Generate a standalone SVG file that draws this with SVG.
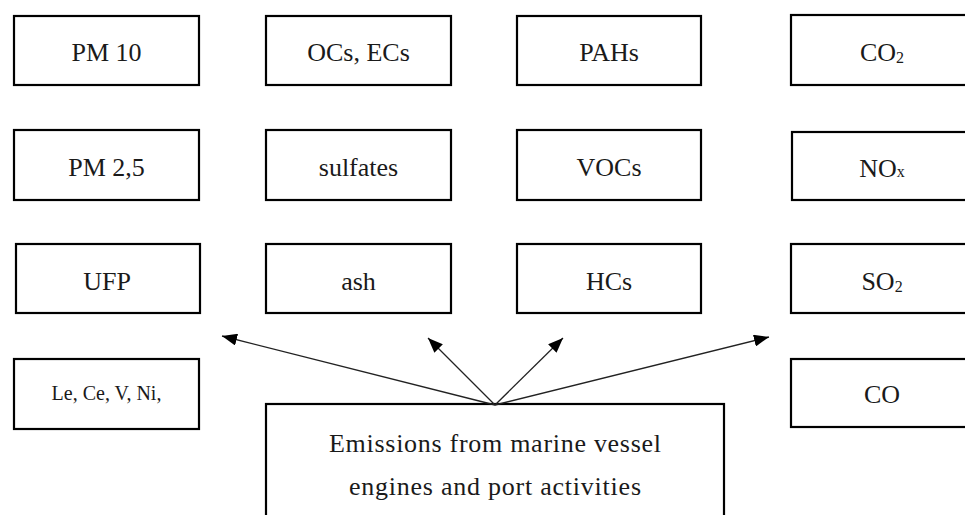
<svg xmlns="http://www.w3.org/2000/svg" width="965" height="515" viewBox="0 0 965 515">
<style>
.box{fill:#fff;stroke:#000;stroke-width:2.2}
.t{font-family:"Liberation Serif","Times New Roman",serif;font-size:26px;fill:#1a1a1a;text-anchor:middle}
.s{font-family:"Liberation Serif","Times New Roman",serif;font-size:20px;fill:#1a1a1a;text-anchor:middle}
.e{font-family:"Liberation Serif","Times New Roman",serif;font-size:26px;fill:#1a1a1a;text-anchor:middle}
.sub{font-size:16px}
.c{stroke:#222;stroke-width:1.3;fill:none;marker-end:url(#ah)}
</style>
<defs>
<marker id="ah" markerUnits="userSpaceOnUse" markerWidth="16" markerHeight="12" refX="15" refY="6" orient="auto">
<path d="M0,0 L15,6 L0,12 z" fill="#000"/>
</marker>
</defs>
<rect width="965" height="515" fill="#fff"/>
<g id="n-pm10"><rect class="box" x="14" y="16" width="185" height="69"/><text class="t" x="106.5" y="61">PM 10</text></g>
<g id="n-ocs"><rect class="box" x="266" y="16" width="185" height="69"/><text class="t" x="358.5" y="61">OCs, ECs</text></g>
<g id="n-pahs"><rect class="box" x="517" y="16" width="184" height="69"/><text class="t" x="609" y="61">PAHs</text></g>
<g id="n-co2"><rect class="box" x="791" y="15" width="186" height="70"/><text class="t" x="882" y="61">CO<tspan class="sub" dy="2">2</tspan></text></g>
<g id="n-pm25"><rect class="box" x="14" y="130" width="185" height="70"/><text class="t" x="106.5" y="176">PM 2,5</text></g>
<g id="n-sulfates"><rect class="box" x="266" y="130" width="185" height="70"/><text class="t" x="358.5" y="176">sulfates</text></g>
<g id="n-vocs"><rect class="box" x="517" y="130" width="184" height="70"/><text class="t" x="609" y="176">VOCs</text></g>
<g id="n-nox"><rect class="box" x="792" y="132" width="186" height="68"/><text class="t" x="882" y="177">NO<tspan class="sub" font-size="18" dy="0">x</tspan></text></g>
<g id="n-ufp"><rect class="box" x="16" y="244" width="184" height="69"/><text class="t" x="107" y="290">UFP</text></g>
<g id="n-ash"><rect class="box" x="266" y="244" width="185" height="69"/><text class="t" x="358.5" y="290">ash</text></g>
<g id="n-hcs"><rect class="box" x="517" y="244" width="184" height="69"/><text class="t" x="609" y="290">HCs</text></g>
<g id="n-so2"><rect class="box" x="791" y="244" width="186" height="69"/><text class="t" x="882" y="290">SO<tspan class="sub" dy="2">2</tspan></text></g>
<g id="n-metals"><rect class="box" x="14" y="359" width="185" height="70"/><text class="s" x="106.5" y="400">Le, Ce, V, Ni,</text></g>
<g id="n-co"><rect class="box" x="791" y="359" width="186" height="68"/><text class="t" x="882" y="403">CO</text></g>
<g id="n-source"><rect class="box" x="266" y="404" width="458" height="130"/><text class="e" x="495" y="452" textLength="332" lengthAdjust="spacing">Emissions from marine vessel</text><text class="e" x="495" y="495" textLength="292" lengthAdjust="spacing">engines and port activities</text></g>
<g id="connectors">
<line class="c" x1="495" y1="405" x2="222" y2="336"/>
<line class="c" x1="495" y1="405" x2="428" y2="338"/>
<line class="c" x1="495" y1="405" x2="563" y2="338"/>
<line class="c" x1="495" y1="405" x2="769" y2="337"/>
</g>
</svg>
